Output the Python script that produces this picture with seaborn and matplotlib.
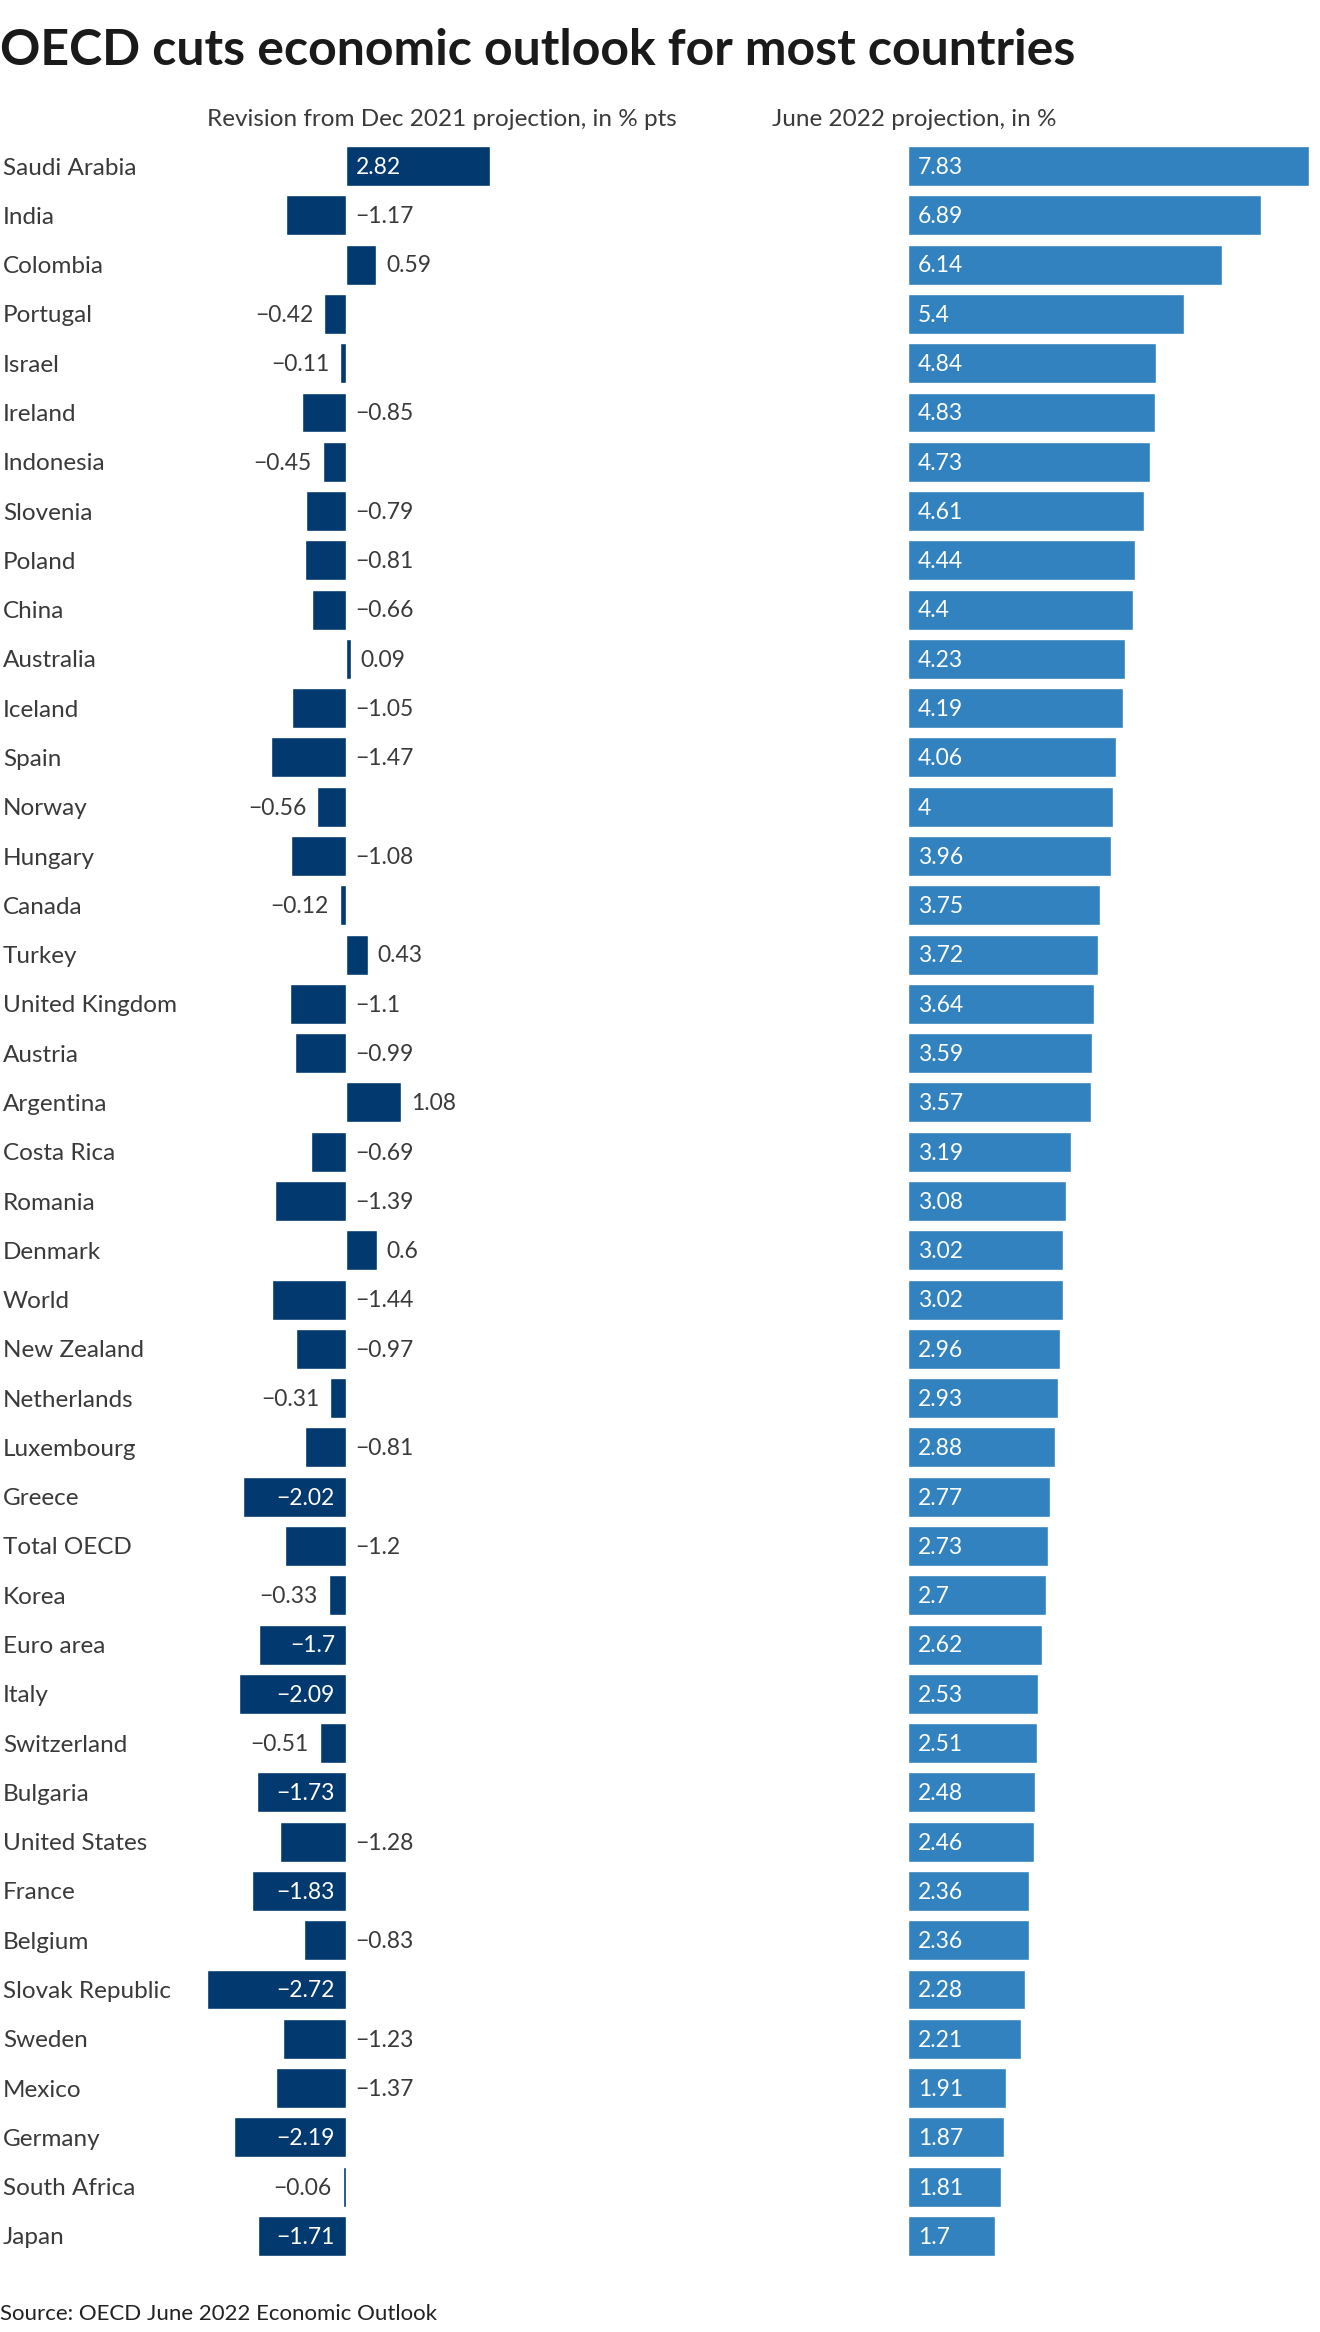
import pandas as pd
import matplotlib
matplotlib.use("Agg")
import matplotlib.pyplot as plt
import seaborn as sns

# data
countries = ["Saudi Arabia", "India", "Colombia", "Portugal", "Israel", "Ireland",
             "Indonesia", "Slovenia", "Poland", "China", "Australia", "Iceland",
             "Spain", "Norway", "Hungary", "Canada", "Turkey", "United Kingdom",
             "Austria", "Argentina", "Costa Rica", "Romania", "Denmark", "World",
             "New Zealand", "Netherlands", "Luxembourg", "Greece", "Total OECD",
             "Korea", "Euro area", "Italy", "Switzerland", "Bulgaria",
             "United States", "France", "Belgium", "Slovak Republic", "Sweden",
             "Mexico", "Germany", "South Africa", "Japan"]
revision = [2.82, -1.17, 0.59, -0.42, -0.11, -0.85, -0.45, -0.79, -0.81, -0.66,
            0.09, -1.05, -1.47, -0.56, -1.08, -0.12, 0.43, -1.1, -0.99, 1.08,
            -0.69, -1.39, 0.6, -1.44, -0.97, -0.31, -0.81, -2.02, -1.2, -0.33,
            -1.7, -2.09, -0.51, -1.73, -1.28, -1.83, -0.83, -2.72, -1.23, -1.37,
            -2.19, -0.06, -1.71]
projection = [7.83, 6.89, 6.14, 5.4, 4.84, 4.83, 4.73, 4.61, 4.44, 4.4, 4.23,
              4.19, 4.06, 4.0, 3.96, 3.75, 3.72, 3.64, 3.59, 3.57, 3.19, 3.08,
              3.02, 3.02, 2.96, 2.93, 2.88, 2.77, 2.73, 2.7, 2.62, 2.53, 2.51,
              2.48, 2.46, 2.36, 2.36, 2.28, 2.21, 1.91, 1.87, 1.81, 1.7]

df = pd.DataFrame({"country": countries, "revision": revision, "projection": projection})

sns.set_style("white")
plt.rcParams["font.family"] = ["Lato", "DejaVu Sans"]

W, H = 1320, 2332
fig = plt.figure(figsize=(W / 100, H / 100), dpi=100)

DARK = "#023a6f"
LIGHT = "#3282bf"
TEXT = "#3a3a3a"
FS = 16.5       # value labels
FS_NAME = 17.5  # country names
px_per_unit = 51.2
top_px, bot_px = 141.4, 2260.6


def add_axes(left_px, right_px):
    return fig.add_axes([left_px / W, 1 - bot_px / H,
                         (right_px - left_px) / W, (bot_px - top_px) / H])


def fmt(v):
    s = f"{abs(v):g}"
    return ("\u2212" + s) if v < 0 else s


# left panel: revision
ax1 = add_axes(200, 560)
sns.barplot(data=df, x="revision", y="country", color=DARK, width=0.81,
            saturation=1, ax=ax1)
ax1.set_xlim(-146 / px_per_unit, 214 / px_per_unit)
ax1.set_ylim(len(df) - 0.5, -0.5)

for i, v in enumerate(revision):
    lab = fmt(v)
    if abs(v) >= 1.5:
        if v > 0:
            ax1.annotate(lab, (0, i), xytext=(7, -1), textcoords="offset points",
                         ha="left", va="center", color="white", fontsize=FS)
        else:
            ax1.annotate(lab, (0, i), xytext=(-8, -1), textcoords="offset points",
                         ha="right", va="center", color="white", fontsize=FS)
    elif v < 0 and abs(v) < 0.6:
        ax1.annotate(lab, (v, i), xytext=(-8, -1), textcoords="offset points",
                     ha="right", va="center", color=TEXT, fontsize=FS)
    else:
        ax1.annotate(lab, (max(v, 0), i), xytext=(7, -1), textcoords="offset points",
                     ha="left", va="center", color=TEXT, fontsize=FS)

ax1.set_xlabel("")
ax1.set_ylabel("")
ax1.set_xticks([])
ax1.tick_params(axis="y", length=0, pad=197 * 0.72)
for t in ax1.get_yticklabels():
    t.set_horizontalalignment("left")
    t.set_fontsize(FS_NAME)
    t.set_color(TEXT)
sns.despine(ax=ax1, left=True, bottom=True)

# right panel: June 2022 projection
ax2 = add_axes(908, 1320)
sns.barplot(data=df, x="projection", y="country", color=LIGHT, width=0.81,
            saturation=1, ax=ax2)
ax2.set_xlim(0, 412 / px_per_unit)
ax2.set_ylim(len(df) - 0.5, -0.5)
for i, v in enumerate(projection):
    ax2.annotate(fmt(v), (0, i), xytext=(7, -1), textcoords="offset points",
                 ha="left", va="center", color="white", fontsize=FS)
ax2.set_xlabel("")
ax2.set_ylabel("")
ax2.set_xticks([])
ax2.set_yticks([])
sns.despine(ax=ax2, left=True, bottom=True)

# titles and notes
fig.text(0, 1 - 65 / H, "OECD cuts economic outlook for most countries",
         fontsize=36, fontweight="bold", color="#1a1a1a", va="baseline")
fig.text(207 / W, 1 - 126 / H, "Revision from Dec 2021 projection, in % pts",
         fontsize=17.5, color=TEXT, va="baseline")
fig.text(772 / W, 1 - 126 / H, "June 2022 projection, in %",
         fontsize=17.5, color=TEXT, va="baseline")
fig.text(0, 1 - 2320 / H, "Source: OECD June 2022 Economic Outlook",
         fontsize=16, color="#222222", va="baseline")

fig.savefig("out.png", dpi=100)
